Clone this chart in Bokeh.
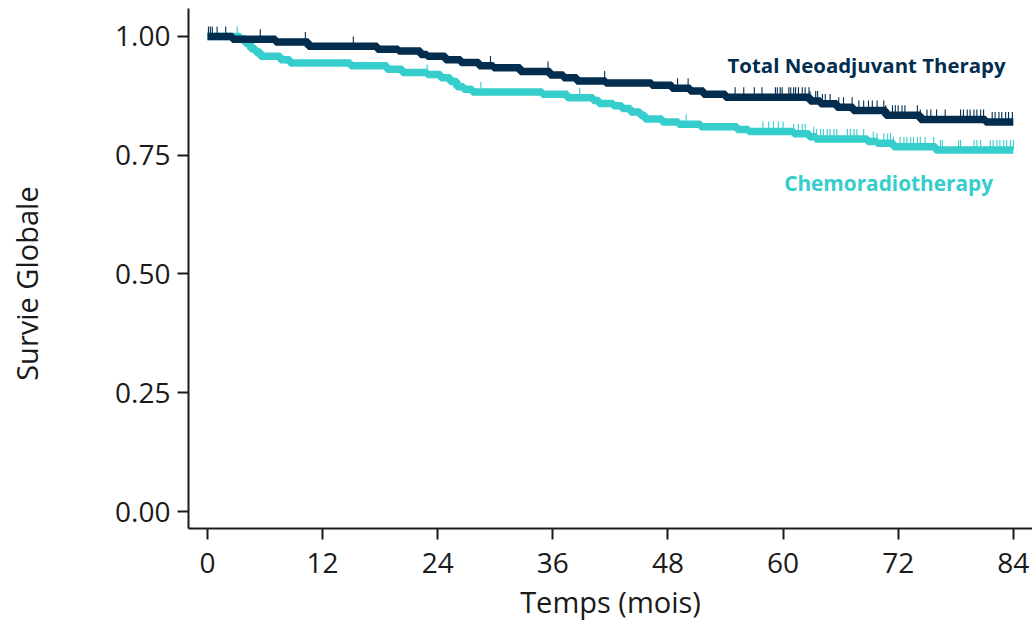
import math
from bokeh.plotting import figure
from bokeh.models import Range1d, FixedTicker
from bokeh.core.properties import value
from bokeh.embed import file_html
from bokeh.resources import INLINE

# ---------------- data ----------------
groups = ["Total Neoadjuvant Therapy", "Chemoradiotherapy"]

tnt_times = [0, 2.6, 7.1, 10.5, 17.7, 19.9, 22.2, 22.9, 24.8, 26.4, 28.3, 29.8, 32.6,
             35.7, 37.1, 38.5, 41.5, 46.3, 48.4, 50.3, 51.7, 54.0, 62.8, 63.9, 65.6,
             67.3, 70.7, 74.3, 81.1]
tnt_surv = [1.000, 0.994, 0.988, 0.979, 0.973, 0.969, 0.962, 0.958, 0.951, 0.945, 0.938,
            0.934, 0.926, 0.919, 0.913, 0.906, 0.902, 0.897, 0.891, 0.885, 0.878, 0.872,
            0.864, 0.858, 0.851, 0.844, 0.834, 0.825, 0.820]
tnt_censor = [0.1, 0.3, 0.5, 1.0, 1.9, 5.5, 10.2, 15.2, 29.5, 35.5, 41.4, 49.0, 50.1,
              55.0, 55.9, 57.0, 57.8, 59.2, 59.4, 59.7, 59.9, 60.6, 60.8, 61.1, 61.3,
              61.6, 62.0, 62.3, 62.7, 62.8, 63.4, 63.6, 64.1, 64.4, 64.9, 65.8, 66.3,
              67.2, 67.9, 68.4, 68.9, 69.3, 69.8, 70.5, 70.7, 71.4, 71.7, 72.0, 72.4,
              72.7, 74.0, 74.3, 75.0, 75.4, 76.0, 76.9, 78.5, 78.8, 79.2, 79.5, 79.9,
              80.2, 80.6, 80.9, 81.8, 82.1, 82.5, 82.8, 83.2, 83.5, 83.9]

crt_times = [0, 3.4, 3.96, 4.5, 5.0, 5.5, 7.6, 8.6, 14.9, 18.7, 20.3, 22.9, 24.3, 25.3,
             26.0, 26.7, 27.6, 34.9, 37.5, 40.2, 40.8, 42.3, 43.2, 44.1, 45.1, 45.6,
             47.4, 49.1, 51.4, 55.2, 56.4, 61.1, 62.7, 63.4, 68.8, 69.8, 71.5, 75.9]
crt_surv = [1.000, 0.995, 0.985, 0.974, 0.967, 0.958, 0.951, 0.944, 0.938, 0.931, 0.924,
            0.920, 0.913, 0.905, 0.894, 0.889, 0.883, 0.878, 0.871, 0.865, 0.859, 0.854,
            0.848, 0.841, 0.834, 0.826, 0.820, 0.815, 0.810, 0.804, 0.800, 0.795, 0.789,
            0.784, 0.779, 0.775, 0.768, 0.761]
crt_censor = [3.1, 22.9, 28.5, 38.8, 49.9, 57.9, 58.5, 59.0, 59.5, 60.0, 61.1, 61.6,
              62.0, 62.3, 63.2, 63.5, 63.9, 64.2, 64.6, 64.9, 65.3, 65.6, 66.7, 67.0,
              67.4, 67.7, 68.4, 69.4, 69.8, 70.5, 70.9, 71.2, 71.5, 72.2, 72.6, 72.9,
              73.3, 73.6, 74.0, 74.3, 74.8, 75.7, 76.4, 76.6, 78.3, 78.5, 79.9, 80.2,
              80.6, 81.6, 81.9, 82.3, 82.6, 83.0, 83.3, 83.7, 84.0]

x_ticks = [0, 12, 24, 36, 48, 60, 72, 84]
y_ticks = [0.0, 0.25, 0.50, 0.75, 1.0]
y_tick_labels = ["0.00", "0.25", "0.50", "0.75", "1.00"]
follow_up_end = 84

NAVY = "#022D4F"
TEAL = "#36CDCD"
FONT = "Open Sans"
CENSOR_H = 0.021  # height of the censor tick above the curve (survival units)


def surv_at(times, surv, t):
    s = surv[0]
    for ti, si in zip(times, surv):
        if ti <= t:
            s = si
    return s


p = figure(width=1032, height=623, output_backend="svg", toolbar_location=None,
           x_range=Range1d(-1.98, 86.0), y_range=Range1d(-0.0356, 1.0587),
           min_border_left=188, min_border_right=0, min_border_top=8,
           min_border_bottom=93)
p.outline_line_color = None
p.xgrid.visible = False
p.ygrid.visible = False
p.background_fill_color = "white"
p.border_fill_color = "white"

series = [(crt_times, crt_surv, crt_censor, TEAL), (tnt_times, tnt_surv, tnt_censor, NAVY)]
for times, surv, cens, col in series:
    xs = list(times) + [follow_up_end]
    ys = list(surv) + [surv[-1]]
    p.step(x=xs, y=ys, mode="after", line_color=col, line_width=7.5)
    cy = [surv_at(times, surv, c) for c in cens]
    p.segment(x0=cens, y0=cy, x1=cens, y1=[v + CENSOR_H for v in cy],
              line_color=col, line_width=1.1)

# group labels
p.text(x=[68.7], y=[0.939], text=[groups[0]], text_color=NAVY, text_font=value(FONT),
       text_font_style="bold", text_font_size="20.4px", text_align="center",
       text_baseline="middle")
p.text(x=[71.0], y=[0.692], text=[groups[1]], text_color=TEAL, text_font=value(FONT),
       text_font_style="bold", text_font_size="20.8px", text_align="center",
       text_baseline="middle")

for ax in (p.xaxis[0], p.yaxis[0]):
    ax.axis_line_width = 2
    ax.axis_line_color = "#1a1a1a"
    ax.major_tick_line_width = 2
    ax.major_tick_line_color = "#1a1a1a"
    ax.major_tick_in = 0
    ax.major_tick_out = 11
    ax.minor_tick_line_color = None
    ax.major_label_text_font = FONT
    ax.major_label_text_font_size = "28px"
    ax.major_label_text_color = "#1a1a1a"
    ax.axis_label_text_font = FONT
    ax.axis_label_text_font_size = "29px"
    ax.axis_label_text_font_style = "normal"
    ax.axis_label_text_color = "#1a1a1a"

p.xaxis.ticker = FixedTicker(ticks=x_ticks)
p.yaxis.ticker = FixedTicker(ticks=y_ticks)
p.yaxis.major_label_overrides = {t: l for t, l in zip(y_ticks, y_tick_labels)}
p.xaxis.axis_label = "Temps (mois)"
# trailing no-break spaces nudge the visible title slightly lower, as in the reference
p.yaxis.axis_label = "Survie Globale" + "\u00a0" * 4
p.xaxis.major_label_standoff = 13
p.yaxis.major_label_standoff = 7
p.xaxis.axis_label_standoff = 6
p.yaxis.axis_label_standoff = 66

open("out.html", "w").write(file_html(p, INLINE))
